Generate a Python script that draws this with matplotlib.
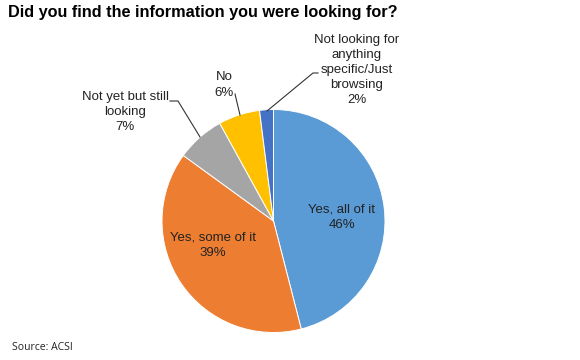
import matplotlib.pyplot as plt

# survey answers, clockwise from 12 o'clock
labels = ['Yes, all of it', 'Yes, some of it', 'Not yet but still\nlooking', 'No',
          'Not looking for\nanything\nspecific/Just\nbrowsing']
shares = [46, 39, 7, 6, 2]
colors = ['#5B9BD5', '#ED7D31', '#A5A5A5', '#FFC000', '#4472C4']

W, H = 580, 360
fig = plt.figure(figsize=(W / 100, H / 100), dpi=100)
ax = fig.add_axes([0, 0, 1, 1])

cx, cy, r = 273.5, H - 221, 111.5
wedges, _ = ax.pie(shares, colors=colors, startangle=90, counterclock=False,
                   center=(cx, cy), radius=r, frame=True,
                   wedgeprops=dict(edgecolor='white', linewidth=0.7))
ax.set_xlim(0, W)
ax.set_ylim(0, H)
ax.axis('off')

font = 'Liberation Sans'
fs = 9.5
txt = dict(family=font, fontsize=fs, ha='center', va='center', color='#222222',
           linespacing=1.35)

def pct(i):
    return f'{labels[i]}\n{shares[i]}%'

# labels inside the two big slices
ax.text(342, H - 217, pct(0), **txt)
ax.text(213, H - 245, pct(1), **txt)
# outside labels with leader lines
ax.text(125, H - 112, pct(2), **txt)
ax.text(224, H - 85, pct(3), **txt)
ax.text(357, H - 70, pct(4), **txt)

lc = dict(color='#333333', linewidth=0.8)
ax.plot([170, 178, 200], [H - 101, H - 101, H - 137], **lc)
ax.plot([235, 240], [H - 94, H - 115], **lc)
ax.plot([318, 313, 267], [H - 73, H - 73, H - 111], **lc)

ax.text(8, H - 12, 'Did you find the information you were looking for?',
        family=font, fontsize=11.7, fontweight='bold', ha='left', va='center')
ax.text(12, H - 347, 'Source: ACSI', family='Open Sans', fontsize=7.5,
        ha='left', va='center', color='#222222')

fig.savefig('out.png', dpi=100)
